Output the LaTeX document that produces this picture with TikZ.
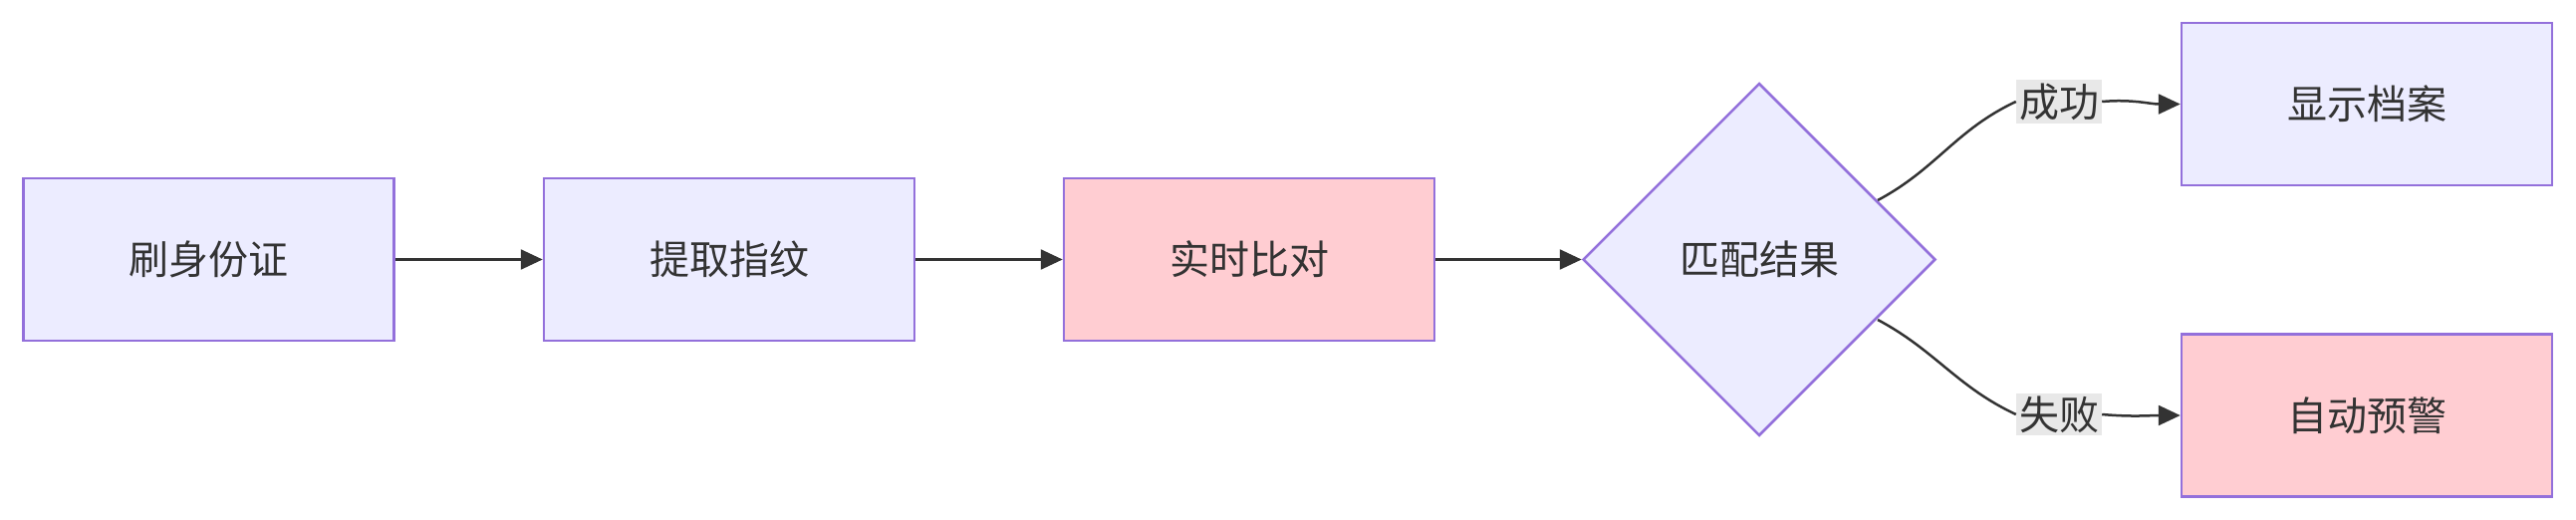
\documentclass[tikz,border=0pt]{standalone}
\usepackage{fontspec}
\setmainfont{Noto Sans CJK SC}
\usetikzlibrary{shapes.geometric,arrows.meta}
\definecolor{bx}{HTML}{ECECFF}
\definecolor{bd}{HTML}{9370DB}
\definecolor{pk}{HTML}{FFCDD2}
\definecolor{tx}{HTML}{333333}
\definecolor{lb}{HTML}{E8E8E8}
\tikzset{
  box/.style={draw=bd,line width=2.5pt,fill=bx,minimum width=372pt,minimum height=163pt,inner sep=0pt,text=tx,font=\fontsize{40}{48}\selectfont},
  pbox/.style={box,fill=pk},
  dia/.style={diamond,draw=bd,line width=2.5pt,fill=bx,minimum width=354pt,minimum height=354pt,inner sep=0pt,text=tx,font=\fontsize{40}{48}\selectfont},
  arr/.style={draw=tx,line width=2.5pt,-{Triangle[length=22pt,width=20pt]}},
  lbl/.style={fill=lb,text=tx,inner sep=3pt,font=\fontsize{40}{48}\selectfont}
}
\begin{document}
\begin{tikzpicture}[x=1pt,y=1pt]
\useasboundingbox (0,0) rectangle (2586,-522);
\node[box] (a) at (209.5,-260.5) {刷身份证};
\node[box] (b) at (732,-260.5) {提取指纹};
\node[pbox] (c) at (1254,-260.5) {实时比对};
\node[dia] (d) at (1766,-260.5) {匹配结果};
\node[box] (e) at (2376,-104.5) {显示档案};
\node[pbox] (f) at (2376,-417) {自动预警};
\draw[arr] (a) -- (b);
\draw[arr] (b) -- (c);
\draw[arr] (c.east) -- (d.west);
\coordinate (p1) at (1885,-201);
\coordinate (p2) at (1885,-321);
\node[lbl] (l1) at (2067,-102) {成功};
\node[lbl] (l2) at (2067,-416) {失败};
\draw[draw=tx,line width=2.5pt] (p1) to[out=28,in=205] (l1.west);
\draw[arr] (l1.east) to[out=5,in=180] (e.west);
\draw[draw=tx,line width=2.5pt] (p2) to[out=-28,in=155] (l2.west);
\draw[arr] (l2.east) to[out=-5,in=180] (f.west);
\end{tikzpicture}
\end{document}
